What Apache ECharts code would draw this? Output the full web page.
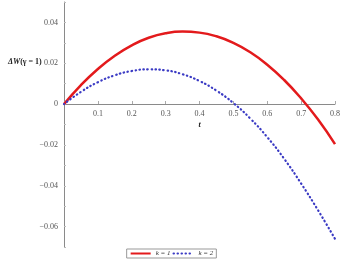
<!DOCTYPE html>
<html>
<head>
<meta charset="utf-8">
<script src="https://cdn.jsdelivr.net/npm/echarts@6/dist/echarts.min.js"></script>
<style>html,body{margin:0;padding:0;background:#fff}#c{width:343px;height:265px}</style>
</head>
<body>
<div id="c"></div>
<script>
var tValues = [0,0.05,0.1,0.15,0.2,0.25,0.3,0.35,0.4,0.45,0.5,0.55,0.6,0.65,0.7,0.75,0.8];
var k1Values = [0,0.0093,0.0172,0.0237,0.0288,0.0325,0.0347,0.0355,0.0350,0.0332,0.0300,0.0254,0.0193,0.0118,0.0028,-0.0076,-0.0196];
var k2Values = [0,0.0060,0.0107,0.0141,0.0162,0.0170,0.0165,0.0146,0.0113,0.0066,0.0005,-0.0071,-0.0162,-0.0268,-0.0389,-0.0520,-0.0660];
var seriesNames = ['k = 1','k = 2'];
var xTickLabels = ['0.1','0.2','0.3','0.4','0.5','0.6','0.7','0.8'];
var yTickLabels = ['\u22120.06','\u22120.04','\u22120.02','0','0.02','0.04'];
var yTickValues = [-0.06,-0.04,-0.02,0,0.02,0.04];

function pairs(ys){ return tValues.map(function(t,i){ return [t, ys[i]]; }); }
var font = 'Liberation Serif';
var chart = echarts.init(document.getElementById('c'));
chart.setOption({
  animation:false,
  backgroundColor:'#fff',
  grid:[
    {left:64,right:8,top:2,bottom:18,containLabel:false,outerBoundsMode:'none'},
    {left:64,right:8,top:2,height:102,containLabel:false,outerBoundsMode:'none'}
  ],
  title:{
    text:'{a|\u0394W}{b|(\u03b3 = 1)}',
    left:8, top:58, padding:0,
    textStyle:{rich:{
      a:{fontFamily:font,fontSize:8,fontWeight:'bold',fontStyle:'italic',color:'#222'},
      b:{fontFamily:font,fontSize:8,fontWeight:'bold',color:'#222'}
    }}
  },
  legend:{
    top:249, left:'center',
    data:seriesNames,
    itemWidth:20, itemHeight:6, itemGap:2,
    itemStyle:{opacity:0},
    borderColor:'#999', borderWidth:1, padding:[1,3,1,3],
    textStyle:{fontFamily:font,fontSize:7,fontStyle:'italic',color:'#333'}
  },
  xAxis:[
    {gridIndex:0,type:'value',min:0,max:0.8,interval:0.1,show:false},
    {gridIndex:1,type:'value',min:0,max:0.8,interval:0.1,position:'bottom',
    name:'t', nameLocation:'middle', nameGap:17,
    nameTextStyle:{fontFamily:font,fontSize:8,fontWeight:'bold',fontStyle:'italic',color:'#222'},
    axisLine:{onZero:false,lineStyle:{color:'#8a8a8a',width:1}},
    axisTick:{inside:true,length:3,lineStyle:{color:'#aaa'}},
    axisLabel:{margin:6,fontFamily:font,fontSize:8,color:'#555',
      formatter:function(v){ var i=Math.round(v*10)-1; return i>=0 ? xTickLabels[i] : ''; }},
    splitLine:{show:false}}
  ],
  yAxis:[
    {gridIndex:0,type:'value', min:-0.07, max:0.05, interval:0.01,
    axisLine:{show:true,onZero:false,lineStyle:{color:'#8a8a8a',width:1}},
    axisTick:{show:true,inside:true,length:2,lineStyle:{color:'#bbb'}},
    axisLabel:{margin:6,fontFamily:font,fontSize:8,color:'#555',
      formatter:function(v){
        for(var i=0;i<yTickValues.length;i++){ if(Math.abs(v-yTickValues[i])<1e-6) return yTickLabels[i]; }
        return '';
      }},
    splitLine:{show:false}},
    {gridIndex:1,type:'value',min:0,max:0.05,show:false}
  ],
  series:[
    {name:seriesNames[0],type:'line',xAxisIndex:0,yAxisIndex:0,data:pairs(k1Values),smooth:true,symbol:'none',
     lineStyle:{color:'#e31a1c',width:2.5},itemStyle:{color:'#e31a1c'}},
    {name:seriesNames[1],type:'line',xAxisIndex:0,yAxisIndex:0,data:pairs(k2Values),smooth:true,symbol:'none',
     lineStyle:{color:'#3b3bc4',width:2.2,type:[0.5,3.5],cap:'round'},itemStyle:{color:'#3b3bc4'}}
  ]
});
</script>
</body>
</html>
